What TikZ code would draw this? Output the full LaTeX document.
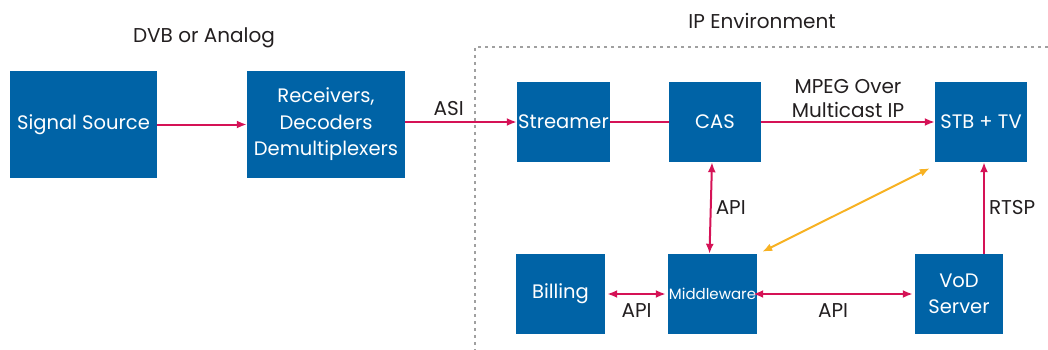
\documentclass[tikz,border=0pt]{standalone}
\usepackage{fontspec}
\setmainfont{Poppins}
\usepackage{xcolor}
\usetikzlibrary{arrows.meta, positioning, calc}
\definecolor{boxblue}{RGB}{0,99,166}
\definecolor{linkred}{RGB}{213,18,86}
\definecolor{linkorange}{RGB}{247,178,35}
\definecolor{textgray}{RGB}{35,31,32}
\definecolor{dotgray}{RGB}{160,160,160}
\tikzset{
  unitbox/.style={rectangle, fill=boxblue, text=white, align=center, inner sep=0pt, font=\fontsize{19.5}{26.5}\selectfont},
  lbl/.style={text=textgray, align=center, inner sep=1pt, font=\fontsize{20}{24}\selectfont},
  arr/.style={-{Latex[length=10pt,width=8pt]}, linkred, line width=2pt},
  darr/.style={{Latex[length=10pt,width=8pt]}-{Latex[length=10pt,width=8pt]}, linkred, line width=2pt},
  oarr/.style={{Latex[length=10pt,width=8pt]}-{Latex[length=10pt,width=8pt]}, linkorange, line width=2pt},
}

\begin{document}
\begin{tikzpicture}[x=1pt, y=-1pt]
  \useasboundingbox (0,0) rectangle (1048,350);
  % IP environment frame
  \draw[dotgray, line width=2pt, dash pattern=on 3pt off 4pt] (1048,47) -- (475,47) -- (475,350);
  \node[lbl] (ipenv) at (762,21) {IP Environment};
  \node[lbl] (dvb) at (204,38) {DVB or Analog};

  % Nodes
  \node[unitbox, minimum width=147, minimum height=107] (src) at (83.5,124.5) {Signal Source};
  \node[unitbox, minimum width=158, minimum height=107] (rcv) at (326,124.5) {Receivers,\\Decoders\\Demultiplexers};
  \node[unitbox, minimum width=93, minimum height=80] (strm) at (563.5,122) {Streamer};
  \node[unitbox, minimum width=92, minimum height=80] (cas) at (715,122) {CAS};
  \node[unitbox, minimum width=92, minimum height=80] (stb) at (981,122) {STB + TV};
  \node[unitbox, minimum width=89, minimum height=80] (bill) at (560.5,294) {Billing};
  \node[unitbox, minimum width=89, minimum height=80, font=\fontsize{15}{18}\selectfont] (mid) at (712.5,294) {Middleware};
  \node[unitbox, minimum width=88, minimum height=80] (vod) at (959,294) {VoD\\Server};

  % Arrows
  \draw[arr] (src) -- (rcv);
  \draw[arr] (rcv.east |- strm) -- node[lbl, above=4pt, pos=0.39]{ASI} (strm);
  \draw[linkred, line width=2pt] (strm) -- (cas);
  \draw[arr] (cas) -- node[lbl, above=2pt]{MPEG Over\\Multicast IP} (stb);
  \draw[darr] ([xshift=-3pt]cas.south) -- node[lbl, right=3pt]{API} ([xshift=-3pt]mid.north);
  \draw[oarr] ([shift={(5,-2)}]mid.north east) -- ([shift={(-5,6)}]stb.south west);
  \draw[arr] ($(vod.north)+(25,0)$) -- node[lbl, right=3pt]{RTSP} ($(stb.south)+(3,0)$);
  \draw[darr] ([xshift=2pt]bill.east) -- node[lbl, below=8pt]{API} ([xshift=-2pt]mid.west);
  \draw[darr] ([xshift=-4pt]mid.east) -- node[lbl, below=8pt]{API} ([xshift=-2pt]vod.west);
\end{tikzpicture}
\end{document}
